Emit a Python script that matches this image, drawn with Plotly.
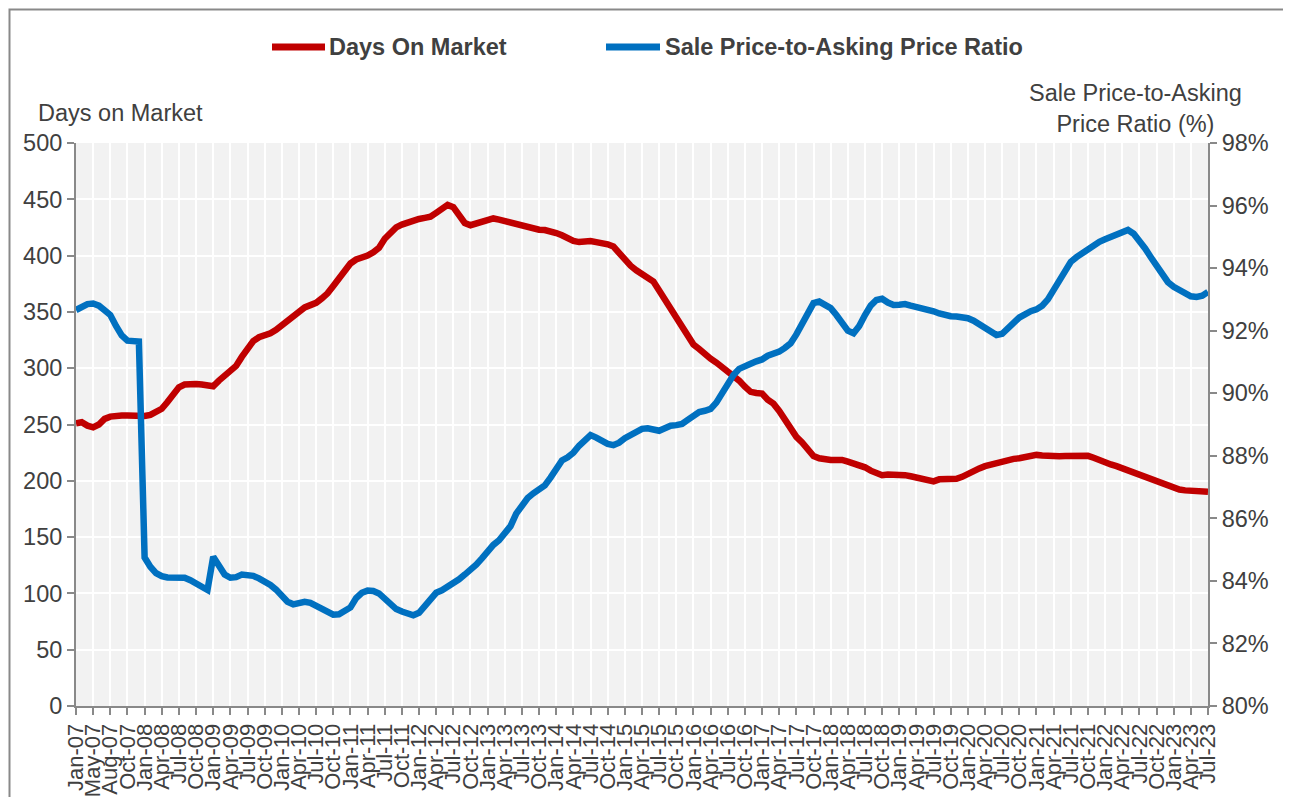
import plotly.graph_objects as go

# ---- data (monthly, Jan-07 .. Jul-23; 199 categories) ----
days_on_market = [
    251, 252, 249, 247.5, 250, 255, 257, 258, 258, 258, 257.5, 257,
    257.5, 258.5, 261, 264, 270, 277, 283, 285.5, 286, 286, 285.5, 285,
    284, 289, 294, 298, 302, 310, 318, 324, 327.5, 329, 331, 334,
    338, 343, 347, 351, 354, 356, 358, 362, 366.5, 373, 380, 387,
    393, 396.5, 398, 400, 403, 407, 415, 420, 425, 427.5, 429.5, 431,
    432.5, 433.5, 434.5, 438, 442, 445, 443, 436, 429, 427, 428.5, 430,
    432, 433, 432, 430.5, 429.5, 428, 426.5, 425, 423.5, 423, 422.7, 422,
    420, 418, 415, 413, 412, 412.5, 413, 412, 411.5, 410, 408, 402,
    396, 391, 387, 384, 381, 377, 369, 361, 352, 344, 337, 329,
    321, 317, 312, 308.5, 305, 301, 297, 294, 289, 283.5, 279, 278,
    277.5, 272, 268.5, 262, 254.5, 246, 239, 234, 227, 222, 220, 218.5,
    218.5, 218.5, 218.5, 217, 215.5, 214, 212, 209, 207, 205, 205.5, 205.7,
    205.3, 205, 204, 203, 202.5, 201, 199.5, 201.3, 201.5, 201.5, 201.8, 203.5,
    206.5, 208.5, 211, 213, 214.5, 216.5, 218, 219, 219.5, 220, 221, 222,
    223, 222.5, 221.8, 221.4, 221.8, 222, 222.3, 222.8, 223, 222.2, 220.5, 218,
    216, 214.5, 213, 211, 209.5, 207.5, 205.5, 203.5, 201, 199.3, 197, 195.2,
    193.5, 192.2, 191.5, 191, 190.5, 190.3, 190.3,
]

sale_to_ask_ratio = [
    92.66, 92.78, 92.85, 92.87, 92.8, 92.65, 92.5, 92.15, 91.85, 91.68, 91.65, 91.65,
    84.75, 84.45, 84.25, 84.15, 84.11, 84.12, 84.13, 84.1, 84.02, 83.92, 83.8, 83.71,
    84.77, 84.45, 84.2, 84.1, 84.12, 84.2, 84.2, 84.16, 84.08, 84.0, 83.87, 83.72,
    83.52, 83.33, 83.25, 83.3, 83.33, 83.3, 83.2, 83.08, 82.98, 82.92, 82.93, 83.02,
    83.15, 83.45, 83.62, 83.69, 83.68, 83.6, 83.42, 83.22, 83.1, 83.02, 82.95, 82.9,
    82.98, 83.2, 83.48, 83.62, 83.7, 83.8, 83.92, 84.05, 84.2, 84.35, 84.52, 84.72,
    84.95, 85.15, 85.3, 85.5, 85.75, 86.15, 86.45, 86.65, 86.8, 86.9, 87.05, 87.3,
    87.62, 87.85, 87.95, 88.1, 88.32, 88.52, 88.66, 88.58, 88.45, 88.38, 88.34, 88.42,
    88.56, 88.68, 88.8, 88.86, 88.88, 88.86, 88.8, 88.88, 88.96, 88.98, 89.02, 89.15,
    89.3, 89.4, 89.44, 89.5, 89.7, 90.0, 90.3, 90.58, 90.78, 90.88, 90.94, 91.02,
    91.08, 91.2, 91.26, 91.33, 91.45, 91.6, 91.88, 92.2, 92.6, 92.88, 92.93, 92.85,
    92.72, 92.5, 92.22, 92.0, 91.92, 92.15, 92.5, 92.8, 92.98, 93.02, 92.9, 92.82,
    92.83, 92.85, 92.8, 92.76, 92.74, 92.7, 92.62, 92.55, 92.49, 92.46, 92.45, 92.43,
    92.4, 92.32, 92.2, 92.05, 91.93, 91.86, 91.9, 92.05, 92.25, 92.42, 92.55, 92.62,
    92.68, 92.8, 93.0, 93.3, 93.65, 93.95, 94.2, 94.35, 94.48, 94.58, 94.72, 94.84,
    94.92, 95.0, 95.1, 95.18, 95.22, 95.1, 94.9, 94.63, 94.35, 94.1, 93.8, 93.55,
    93.4, 93.28, 93.18, 93.1, 93.08, 93.12, 93.24,
]

month_index = list(range(len(days_on_market)))

tick_labels = (["Jan-07", "May-07", "Aug-07", "Oct-07"]
               + [f"{m}-{y:02d}" for y in range(8, 23) for m in ("Jan", "Apr", "Jul", "Oct")]
               + ["Jan-23", "Apr-23", "Jul-23"])
tick_positions = month_index[::3]

series_names = ["Days On Market", "Sale Price-to-Asking Price Ratio"]
colors = ["#C00000", "#0070C0"]

FONT = "Arial, Liberation Sans, sans-serif"
TXT = "#404040"
AX = "#898989"
FS = 23.5
FSX = 22

fig = go.Figure()
fig.add_trace(go.Scatter(x=month_index, y=days_on_market, mode="lines",
                         name=series_names[0], line=dict(color=colors[0], width=6.5),
                         yaxis="y"))
fig.add_trace(go.Scatter(x=month_index, y=sale_to_ask_ratio, mode="lines",
                         name=series_names[1], line=dict(color=colors[1], width=6.5),
                         yaxis="y2"))

# page has an 8px body margin: shift figure-internal margins to compensate
OFF = 8
PL, PR, PT, PB = 76, 1208, 143, 706          # plot area on screen
L, T = PL - OFF, PT - OFF
R = 1291 - (PR - OFF)
B = 797 - (PB - OFF)
W, H = PR - PL, PB - PT


def px(xp):
    return (xp - PL) / W


def py(yp):
    return (PB - yp) / H


fig.update_layout(
    width=1291, height=797,
    margin=dict(l=L, r=R, t=T, b=B, pad=0, autoexpand=False),
    paper_bgcolor="white", plot_bgcolor="#F2F2F2",
    showlegend=False,
    font=dict(family=FONT, size=FS, color=TXT),
    xaxis=dict(range=[0, len(month_index) - 1], tickmode="array",
               tickvals=tick_positions, ticktext=tick_labels, tickangle=-90,
               showgrid=True, gridcolor="white", gridwidth=2,
               ticks="outside", ticklen=7, tickwidth=1.5, tickcolor=AX,
               showline=True, linecolor=AX, linewidth=2, automargin=False,
               tickfont=dict(size=FSX, color=TXT), zeroline=False),
    yaxis=dict(range=[0, 500], dtick=50, tick0=0, automargin=False,
               showgrid=True, gridcolor="white", gridwidth=2,
               ticks="outside", ticklen=7, tickwidth=1.5, tickcolor=AX,
               showline=True, linecolor=AX, linewidth=2, zeroline=False,
               tickfont=dict(size=FS, color=TXT)),
    yaxis2=dict(range=[80, 98], dtick=2, tick0=80, ticksuffix="%", automargin=False,
                overlaying="y", side="right", showgrid=False,
                ticks="outside", ticklen=7, tickwidth=1.5, tickcolor=AX,
                showline=True, linecolor=AX, linewidth=2, zeroline=False,
                tickfont=dict(size=FS, color=TXT)),
)

# outer chart border (top/left/right visible; bottom edge falls below the window)
fig.add_shape(type="rect", xref="paper", yref="paper",
              x0=px(9.5), x1=px(1285), y0=py(830), y1=py(9.5),
              line=dict(color=AX, width=2), fillcolor="rgba(0,0,0,0)", layer="above")

# manual legend
leg_y = py(47)
for (x0, x1, tx), name, col in zip([(272, 325, 327), (606, 660, 663)], series_names, colors):
    fig.add_shape(type="line", xref="paper", yref="paper",
                  x0=px(x0), x1=px(x1), y0=leg_y, y1=leg_y,
                  line=dict(color=col, width=7))
    fig.add_annotation(xref="paper", yref="paper", x=px(tx), y=leg_y,
                       text=f"<b>{name}</b>", showarrow=False,
                       xanchor="left", yanchor="middle",
                       font=dict(size=FS, color=TXT, family=FONT))

# axis titles
fig.add_annotation(xref="paper", yref="paper", x=px(120), y=py(113),
                   text="Days on Market", showarrow=False,
                   xanchor="center", yanchor="middle",
                   font=dict(size=FS, color=TXT, family=FONT))
fig.add_annotation(xref="paper", yref="paper", x=px(1135), y=py(108.5),
                   text="Sale Price-to-Asking<br>Price Ratio (%)", showarrow=False,
                   xanchor="center", yanchor="middle", align="center",
                   font=dict(size=FS, color=TXT, family=FONT))

fig.write_html("out.html")
